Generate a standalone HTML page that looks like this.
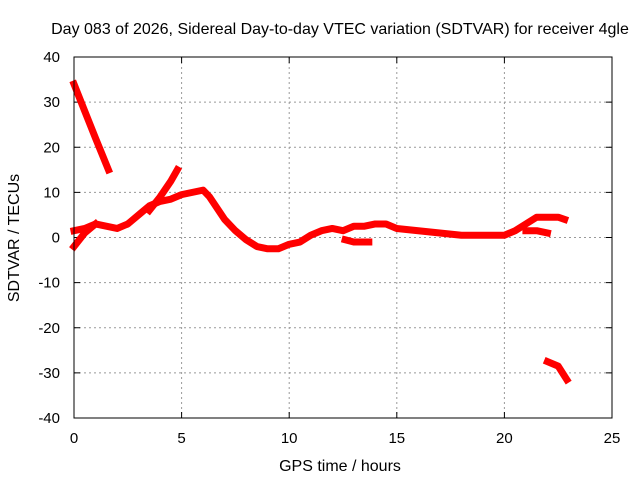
<!DOCTYPE html>
<html><head><meta charset="utf-8"><style>
body{margin:0;background:#fff}
svg text{font-family:"Liberation Sans",sans-serif;font-size:15px;fill:#000}
</style></head><body>
<svg width="640" height="480" id="c">
<text x="340" y="34" text-anchor="middle" style="font-size:16px">Day 083 of 2026, Sidereal Day-to-day VTEC variation (SDTVAR) for receiver 4gle</text>
<text x="340" y="471" text-anchor="middle" style="font-size:16px">GPS time / hours</text>
<text transform="translate(19,238) rotate(-90)" text-anchor="middle" style="font-size:16px">SDTVAR / TECUs</text>
<g id="grid"></g><g id="series"></g>
<rect x="74" y="57" width="538" height="361" fill="none" stroke="#000"/>
</svg>
<script>
const xTicks=[0,5,10,15,20,25];
const yTicks=[-40,-30,-20,-10,0,10,20,30,40];
const traceAx=[0,0.5,1,1.6];
const traceAy=[34,28,22,15];
const traceBx=[0,0.5,1,1.5,2,2.5,3,3.5,4,4.5,5,5.5,6,6.3,7,7.5,8,8.5,9,9.5,10,10.5,11,11.5,12,12.5,13,13.5,14,14.5,15,16,17,18,19,20,20.5,21,21.5,22,22.5,22.8];
const traceBy=[1.5,2,3,2.5,2,3,5,7,8,8.5,9.5,10,10.5,9,4,1.5,-0.5,-2,-2.5,-2.5,-1.5,-1,0.5,1.5,2,1.5,2.5,2.5,3,3,2,1.5,1,0.5,0.5,0.5,1.5,3,4.5,4.5,4.5,4];
const traceCx=[0,0.5,1];
const traceCy=[-2,1,3];
const traceDx=[3.5,4,4.5,4.8];
const traceDy=[6,9,12.5,15];
const traceEx=[12.6,13,13.7];
const traceEy=[-0.5,-1,-1];
const traceFx=[21,21.5,22];
const traceFy=[1.5,1.5,1];
const traceGx=[22,22.5,22.9];
const traceGy=[-27.5,-28.5,-31.5];
const X=v=>74+v*538/25, Y=v=>418-(v+40)*361/80;
const NS="http://www.w3.org/2000/svg";
const svg=document.getElementById('c'),grid=document.getElementById('grid'),ser=document.getElementById('series');
function mk(t,a,p){const e=document.createElementNS(NS,t);for(const k in a)e.setAttribute(k,a[k]);p.appendChild(e);return e;}
xTicks.forEach(v=>{
 if(v>0&&v<25){const l=mk('line',{x1:X(v),x2:X(v),y1:57,y2:418,stroke:'#999','stroke-dasharray':'2,3'},grid);
 
 }
 mk('line',{x1:X(v),x2:X(v),y1:418,y2:412,stroke:'#000'},grid);
 mk('line',{x1:X(v),x2:X(v),y1:57,y2:63,stroke:'#000'},grid);
 const t=mk('text',{x:X(v),y:443,'text-anchor':'middle'},grid);t.textContent=v;
 
 
});
yTicks.forEach(v=>{
 if(v>-40&&v<40){const l=mk('line',{x1:74,x2:612,y1:Y(v),y2:Y(v),stroke:'#999','stroke-dasharray':'2,3'},grid);
 
 }
 mk('line',{x1:74,x2:80,y1:Y(v),y2:Y(v),stroke:'#000'},grid);
 mk('line',{x1:606,x2:612,y1:Y(v),y2:Y(v),stroke:'#000'},grid);
 const t=mk('text',{x:60,y:Y(v)+5,'text-anchor':'end'},grid);t.textContent=v;
 
 
});
[[traceAx,traceAy],[traceBx,traceBy],[traceCx,traceCy],[traceDx,traceDy],[traceEx,traceEy],[traceFx,traceFy],[traceGx,traceGy]].forEach(([xs,ys],i)=>{
 const p=mk('polyline',{points:xs.map((x,j)=>X(x)+','+Y(ys[j])).join(' '),fill:'none',stroke:'#f00','stroke-width':7,'stroke-linejoin':'round','stroke-linecap':'square'},ser);
 
 
});
</script>
</body></html>
